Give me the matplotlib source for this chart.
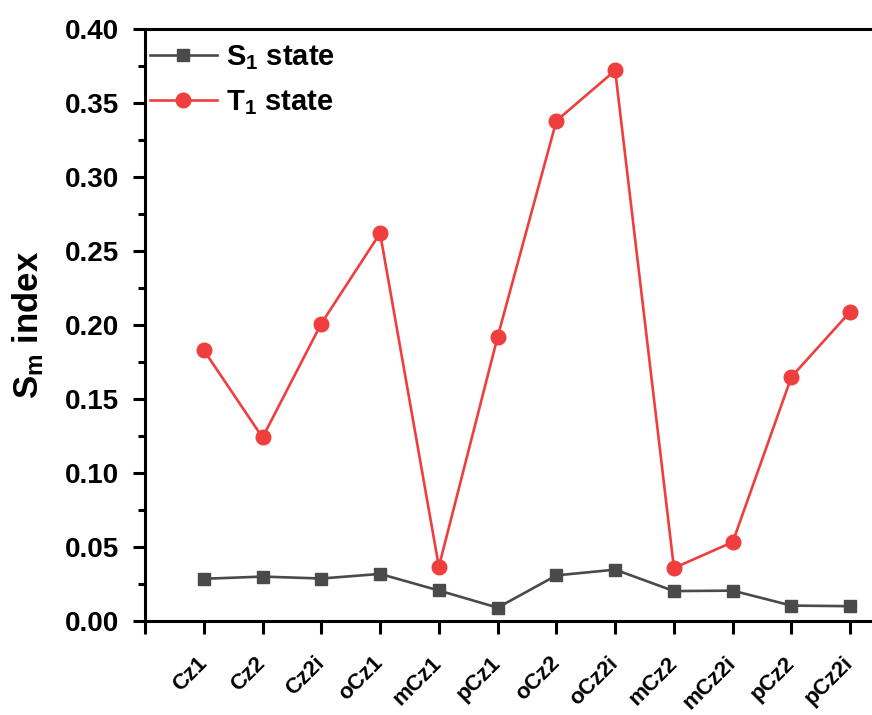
import numpy as np
import matplotlib
matplotlib.use("Agg")
import matplotlib.pyplot as plt
from matplotlib.ticker import MultipleLocator
from matplotlib.transforms import ScaledTranslation

plt.rcParams["font.family"] = ["Liberation Sans", "DejaVu Sans"]
plt.rcParams["font.weight"] = "bold"
plt.rcParams["mathtext.fontset"] = "custom"
plt.rcParams["mathtext.rm"] = "Liberation Sans:bold"
plt.rcParams["mathtext.it"] = "Liberation Sans:bold"
plt.rcParams["mathtext.bf"] = "Liberation Sans:bold"

# ============================================================
#  Data
# ============================================================
molecules = ["Cz1", "Cz2", "Cz2i", "oCz1", "mCz1", "pCz1",
             "oCz2", "oCz2i", "mCz2", "mCz2i", "pCz2", "pCz2i"]
s1_sm = [0.0285, 0.0300, 0.0287, 0.0318, 0.0206, 0.0090,
         0.0308, 0.0347, 0.0202, 0.0205, 0.0104, 0.0100]
t1_sm = [0.183, 0.124, 0.201, 0.262, 0.0367, 0.192,
         0.338, 0.372, 0.0358, 0.0533, 0.165, 0.209]

yticks = np.arange(0, 0.401, 0.05)
x = np.arange(1, len(molecules) + 1)

# ============================================================
#  Plot
# ============================================================
fig = plt.figure(figsize=(8.72, 7.15), dpi=100)
ax = fig.add_axes([0.1663, 0.1315, 0.8337, 0.8279])

ax.plot(x, s1_sm, color="#4a4a4a", lw=1.9, marker="s", ms=9,
        label=r"S$_\mathregular{1}$ state")
ax.plot(x, t1_sm, color="#ef3e3e", lw=1.9, marker="o", ms=10.5,
        label=r"T$_\mathregular{1}$ state")

ax.set_xlim(0, 12.37)
ax.set_ylim(0, 0.40)
ax.set_xticks(np.concatenate([[0], x]))
ax.set_xticklabels([""] + molecules, rotation=45, ha="right", va="center",
                   rotation_mode="anchor", fontsize=16, fontweight="bold")
# Origin puts the end of each rotated label a bit right of its tick
shift = ScaledTranslation(0.26, 0.0, fig.dpi_scale_trans)
for lbl in ax.get_xticklabels():
    lbl.set_transform(lbl.get_transform() + shift)

ax.set_yticks(yticks)
ax.set_yticklabels([f"{v:.2f}" for v in yticks], fontsize=20, fontweight="bold")
ax.yaxis.set_minor_locator(MultipleLocator(0.025))

ax.set_ylabel(r"S$_\mathregular{m}$ index", fontsize=25, fontweight="bold",
              labelpad=14)

for side in ["left", "bottom", "top"]:
    ax.spines[side].set_linewidth(2.2)
ax.spines["right"].set_visible(False)

ax.tick_params(axis="both", which="major", direction="out", length=9,
               width=2.2, pad=9.5)
ax.tick_params(axis="y", which="minor", direction="out", length=5, width=2.2)
ax.tick_params(axis="x", which="major", pad=19)

ax.legend(loc="upper left", bbox_to_anchor=(-0.0055, 0.99), frameon=False,
          fontsize=21, handlelength=2.3, handletextpad=0.3, labelspacing=0.55,
          borderaxespad=0.1, borderpad=0.2)

fig.savefig("out.png", dpi=100)
